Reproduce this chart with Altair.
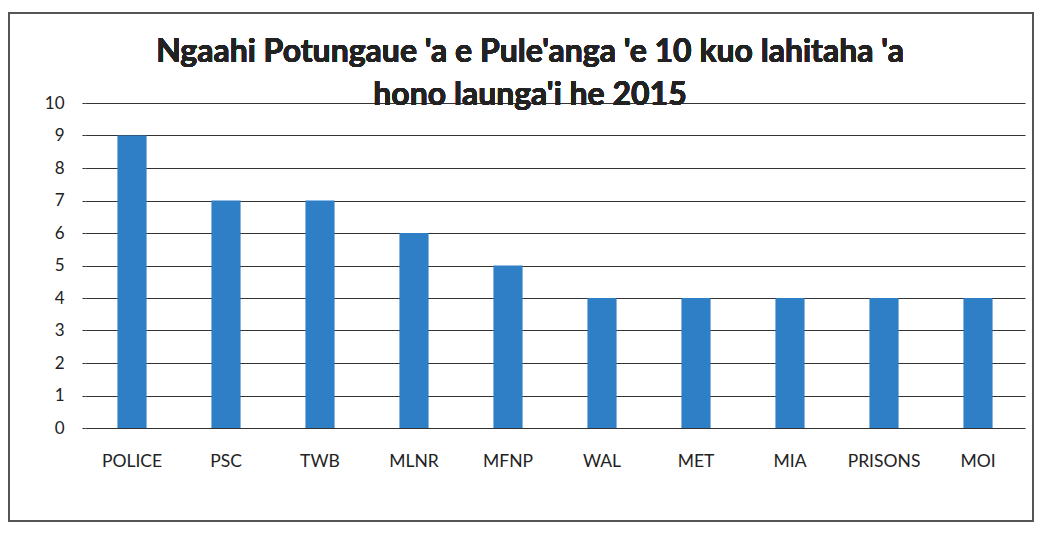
import altair as alt
import pandas as pd

categories = ["POLICE", "PSC", "TWB", "MLNR", "MFNP", "WAL", "MET", "MIA", "PRISONS", "MOI"]
values = [9, 7, 7, 6, 5, 4, 4, 4, 4, 4]
title_lines = ["Ngaahi Potungaue 'a e Pule'anga 'e 10 kuo lahitaha 'a", "hono launga'i he 2015"]

df = pd.DataFrame({"cat": categories, "val": values})
FONT = "Lato"

bars = alt.Chart(df).mark_bar(color="#2F7FC6").encode(
    x=alt.X("cat:N", sort=categories, title=None,
            scale=alt.Scale(paddingInner=0.69, paddingOuter=0.345),
            axis=alt.Axis(labelAngle=0, labelFontSize=17.5, labelColor="#222", labelFont=FONT,
                          ticks=False, domain=False, labelPadding=24)),
    y=alt.Y("val:Q", title=None,
            scale=alt.Scale(domain=[0, 10]),
            axis=alt.Axis(values=list(range(0, 11)), labelFontSize=17, labelColor="#222", labelFont=FONT,
                          grid=True, gridColor="#333", gridWidth=1.2, domain=False,
                          ticks=True, tickSize=3, tickColor="#333", labelPadding=18)),
)

border = alt.Chart(df).mark_rect(fill=None, stroke="#555", strokeWidth=1.5, clip=False).encode(
    x=alt.value(-76), x2=alt.value(948), y=alt.value(-90), y2=alt.value(418)
)

t1 = alt.Chart(df).mark_text(text=title_lines[0], font=FONT, fontSize=32, fontWeight="bold",
                             color="#222", align="center", baseline="alphabetic").encode(
    x=alt.value(445), y=alt.value(-41))
t2 = alt.Chart(df).mark_text(text=title_lines[1], font=FONT, fontSize=32, fontWeight="bold",
                             color="#222", align="center", baseline="alphabetic").encode(
    x=alt.value(445), y=alt.value(2))

chart = alt.layer(border, bars, t1, t2).properties(
    width=940, height=325,
    padding={"left": 77, "top": 95, "right": 10, "bottom": 95},
    autosize=alt.AutoSizeParams(type="none"),
).configure_view(stroke=None)

chart.save("out.html", embed_options={"renderer": "svg", "actions": False})
